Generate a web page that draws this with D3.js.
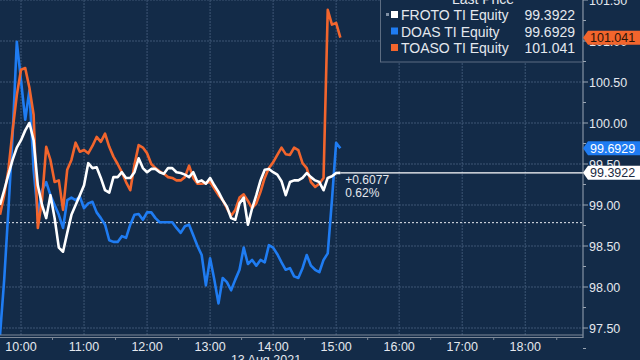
<!DOCTYPE html>
<html>
<head>
<meta charset="utf-8">
<script src="https://cdn.jsdelivr.net/npm/d3@7"></script>
<style>
  body { margin: 0; background: #132b48; overflow: hidden; }
  svg { display: block; font-family: 'Liberation Sans', Arial, sans-serif; }
</style>
</head>
<body>
<svg id="chart" width="640" height="360"></svg>
<script>
// intraday prices, 13 Aug 2021, sampled every 4 minutes
const times = [
  '09:40', '09:44', '09:48', '09:52', '09:56', '10:00', '10:04', '10:08', '10:12', '10:16',
  '10:20', '10:24', '10:28', '10:32', '10:36', '10:40', '10:44', '10:48', '10:52', '10:56',
  '11:00', '11:04', '11:08', '11:12', '11:16', '11:20', '11:24', '11:28', '11:32', '11:36',
  '11:40', '11:44', '11:48', '11:52', '11:56', '12:00', '12:04', '12:08', '12:12', '12:16',
  '12:20', '12:24', '12:28', '12:32', '12:36', '12:40', '12:44', '12:48', '12:52', '12:56',
  '13:00', '13:04', '13:08', '13:12', '13:16', '13:20', '13:24', '13:28', '13:32', '13:36',
  '13:40', '13:44', '13:48', '13:52', '13:56', '14:00', '14:04', '14:08', '14:12', '14:16',
  '14:20', '14:24', '14:28', '14:32', '14:36', '14:40', '14:44', '14:48', '14:52', '14:56',
  '15:00', '15:04'
]

const froto = [
  99.00, 99.18, 99.37, 99.55, 99.70, 99.79, 99.91, 100.00, 99.79, 99.24,
  99.00, 98.84, 99.12, 98.84, 98.48, 98.43, 98.66, 98.88, 99.00, 99.12,
  99.24, 99.51, 99.45, 99.46, 99.33, 99.18, 99.15, 99.34, 99.34, 99.40,
  99.33, 99.33, 99.40, 99.57, 99.45, 99.40, 99.44, 99.44, 99.40, 99.38,
  99.45, 99.45, 99.40, 99.39, 99.37, 99.34, 99.40, 99.28, 99.30, 99.26,
  99.33, 99.24, 99.16, 99.06, 98.98, 98.84, 98.82, 99.02, 99.09, 98.76,
  98.96, 99.12, 99.30, 99.43, 99.44, 99.40, 99.37, 99.29, 99.12, 99.28,
  99.30, 99.30, 99.33, 99.39, 99.34, 99.30, 99.28, 99.18, 99.33, 99.35,
  99.39, 99.3922
]

const doas = [
  97.41, 98.09, 98.94, 99.85, 100.99, 100.52, 100.04, 100.40, 99.43, 98.88,
  99.18, 99.28, 99.12, 99.00, 98.88, 98.72, 99.06, 99.09, 99.06, 99.10,
  98.96, 99.02, 99.04, 98.91, 98.84, 98.76, 98.57, 98.55, 98.55, 98.62,
  98.60, 98.76, 98.88, 98.89, 98.82, 98.91, 98.91, 98.84, 98.79, 98.79,
  98.79, 98.79, 98.72, 98.66, 98.74, 98.76, 98.63, 98.50, 98.39, 98.02,
  98.35, 98.09, 97.80, 98.11, 98.06, 97.96, 98.09, 98.21, 98.48, 98.28,
  98.33, 98.26, 98.33, 98.30, 98.51, 98.48, 98.40, 98.30, 98.21, 98.23,
  98.13, 98.11, 98.23, 98.39, 98.26, 98.21, 98.18, 98.33, 98.41, 99.06,
  99.76, 99.6929
]

const toaso = [
  98.88, 99.12, 99.43, 99.91, 100.34, 100.65, 100.67, 100.43, 100.10, 98.72,
  99.06, 99.71, 99.55, 99.28, 99.30, 98.94, 99.43, 99.55, 99.76, 99.65,
  99.67, 99.63, 99.72, 99.83, 99.77, 99.87, 99.71, 99.59, 99.50, 99.40,
  99.28, 99.18, 99.49, 99.73, 99.70, 99.63, 99.50, 99.45, 99.41, 99.38,
  99.34, 99.33, 99.30, 99.30, 99.34, 99.48, 99.33, 99.26, 99.26, 99.27,
  99.28, 99.20, 99.12, 99.06, 98.96, 98.87, 98.94, 99.09, 99.13, 99.05,
  98.96, 99.02, 99.16, 99.33, 99.45, 99.52, 99.61, 99.70, 99.62, 99.61,
  99.70, 99.67, 99.51, 99.45, 99.28, 99.22, 99.26, 99.33, 101.38, 101.20,
  101.22, 101.041
]

const seriesNames = ['FROTO TI Equity', 'DOAS TI Equity', 'TOASO TI Equity']
const lastLabels = ['99.3922', '99.6929', '101.041']
const yTicks = [97.5, 98, 98.5, 99, 99.5, 100, 100.5, 101, 101.5]
const xTicks = ['10:00', '11:00', '12:00', '13:00', '14:00', '15:00', '16:00', '17:00', '18:00']
const prevClose = 98.7845
const changeText = ['+0.6077', '0.62%']
const dateText = '13 Aug 2021'

const lineColors = ['#ffffff', '#1f7cf2', '#f2652d']
const tagText = ['#1b2a3d', '#ffffff', '#2a1408']

class PriceChart {

  plotRight = 583
  plotBottom = 335
  gridColor = '#3e5675'
  axisColor = '#9aa6b4'
  textColor = '#e4e8ee'

  constructor() {
    this.svg = d3.select('#chart')
    this.parse = d3.timeParse('%Y-%m-%d %H:%M')
    this.dates = times.map(t => this.parse('2021-08-13 ' + t))

    this.x = d3.scaleTime()
      .domain([this.parse('2021-08-13 09:40'), this.parse('2021-08-13 18:55')])
      .range([0, this.plotRight])

    this.y = d3.scaleLinear()
      .domain([97.5, 101.5])
      .range([328, 0])

    this.RenderGrid()
    this.RenderLines()
    this.RenderAxes()
    this.RenderLegend()
    this.RenderTags()
  }

  RenderGrid = () => {
    const grid = this.svg.append('g').classed('grid', true)

    grid.selectAll('line.h')
      .data(yTicks)
      .join('line')
      .attr('x1', 0)
      .attr('x2', this.plotRight)
      .attr('y1', d => this.y(d))
      .attr('y2', d => this.y(d))
      .attr('stroke', this.gridColor)
      .attr('stroke-dasharray', '2,1')

    grid.selectAll('line.v')
      .data(xTicks)
      .join('line')
      .attr('x1', d => this.x(this.parse('2021-08-13 ' + d)))
      .attr('x2', d => this.x(this.parse('2021-08-13 ' + d)))
      .attr('y1', 0)
      .attr('y2', this.plotBottom)
      .attr('stroke', this.gridColor)
      .attr('stroke-dasharray', '2,1')

    // previous close reference
    grid.append('line')
      .attr('x1', 0)
      .attr('x2', this.plotRight)
      .attr('y1', this.y(prevClose))
      .attr('y2', this.y(prevClose))
      .attr('stroke', '#e8ecf2')
      .attr('stroke-dasharray', '2,2')
  }

  RenderLines = () => {
    this.svg.append('clipPath')
      .attr('id', 'plotClip')
      .append('rect')
      .attr('width', this.plotRight)
      .attr('height', this.plotBottom)

    const line = d3.line()
      .x((d, i) => this.x(this.dates[i]))
      .y(d => this.y(d))

    const lines = this.svg.append('g').attr('clip-path', 'url(#plotClip)')

    // last price line for FROTO
    const lastX = this.x(this.dates[this.dates.length - 1])
    lines.append('line')
      .attr('x1', lastX)
      .attr('x2', this.plotRight)
      .attr('y1', this.y(froto[froto.length - 1]))
      .attr('y2', this.y(froto[froto.length - 1]))
      .attr('stroke', '#ffffff')
      .attr('stroke-width', 1.2)

    const order = [[doas, 1], [toaso, 2], [froto, 0]]
    lines.selectAll('path')
      .data(order)
      .join('path')
      .attr('d', d => line(d[0]))
      .attr('fill', 'none')
      .attr('stroke', d => lineColors[d[1]])
      .attr('stroke-width', 2.6)
      .attr('stroke-linejoin', 'round')

    this.svg.selectAll('text.change')
      .data(changeText)
      .join('text')
      .classed('change', true)
      .attr('x', lastX + 5)
      .attr('y', (d, i) => 184 + i * 13)
      .attr('fill', this.textColor)
      .attr('font-size', 12)
      .text(d => d)
  }

  RenderAxes = () => {
    const axisG = this.svg.append('g')

    // right price axis
    axisG.append('line')
      .attr('x1', this.plotRight)
      .attr('x2', this.plotRight)
      .attr('y1', 0)
      .attr('y2', this.plotBottom + 3)
      .attr('stroke', this.axisColor)

    const minor = d3.range(97.25, 101.5, 0.5)
    axisG.selectAll('line.minor')
      .data(minor)
      .join('line')
      .attr('x1', this.plotRight)
      .attr('x2', this.plotRight + 3)
      .attr('y1', d => this.y(d))
      .attr('y2', d => this.y(d))
      .attr('stroke', this.axisColor)

    axisG.selectAll('line.major')
      .data(yTicks)
      .join('line')
      .attr('x1', this.plotRight)
      .attr('x2', this.plotRight + 5)
      .attr('y1', d => this.y(d))
      .attr('y2', d => this.y(d))
      .attr('stroke', this.axisColor)

    axisG.selectAll('text.ylab')
      .data(yTicks)
      .join('text')
      .attr('x', this.plotRight + 6)
      .attr('y', d => this.y(d) + 4.5)
      .attr('fill', this.textColor)
      .attr('font-size', 12.5)
      .text(d => d3.format('.2f')(d))

    // bottom time axis (double rule)
    ;[this.plotBottom, this.plotBottom + 2.5].forEach(yy => {
      axisG.append('line')
        .attr('x1', 0)
        .attr('x2', this.plotRight)
        .attr('y1', yy)
        .attr('y2', yy)
        .attr('stroke', '#7d8897')
    })

    const halfHours = xTicks.map(t => d3.timeMinute.offset(this.parse('2021-08-13 ' + t), 30))
    axisG.selectAll('line.xminor')
      .data(halfHours)
      .join('line')
      .attr('x1', d => this.x(d))
      .attr('x2', d => this.x(d))
      .attr('y1', this.plotBottom + 2.5)
      .attr('y2', this.plotBottom + 5)
      .attr('stroke', '#7d8897')

    axisG.selectAll('text.xlab')
      .data(xTicks)
      .join('text')
      .attr('x', d => this.x(this.parse('2021-08-13 ' + d)))
      .attr('y', 351)
      .attr('text-anchor', 'middle')
      .attr('fill', this.textColor)
      .attr('font-size', 12.5)
      .text(d => d)

    axisG.append('text')
      .attr('x', 266)
      .attr('y', 364)
      .attr('text-anchor', 'middle')
      .attr('fill', this.textColor)
      .attr('font-size', 12.5)
      .text(dateText)
  }

  RenderLegend = () => {
    const legend = this.svg.append('g').classed('legend', true)

    legend.append('rect')
      .attr('x', 380.5)
      .attr('y', -10)
      .attr('width', 202)
      .attr('height', 72)
      .attr('fill', '#132b48')
      .attr('stroke', '#5d6d82')

    legend.append('text')
      .attr('x', 483)
      .attr('y', 4)
      .attr('text-anchor', 'middle')
      .attr('fill', this.textColor)
      .attr('font-size', 14)
      .text('Last Price')

    legend.append('rect')
      .attr('x', 386)
      .attr('y', 13)
      .attr('width', 3)
      .attr('height', 3)
      .attr('fill', '#8090a4')

    const rows = legend.selectAll('g.row')
      .data(seriesNames)
      .join('g')
      .attr('transform', (d, i) => `translate(0, ${15 + i * 16.5})`)

    rows.append('rect')
      .attr('x', 391)
      .attr('y', -4)
      .attr('width', 7)
      .attr('height', 7)
      .attr('fill', (d, i) => lineColors[i])

    rows.append('text')
      .attr('x', 401)
      .attr('y', 5)
      .attr('fill', this.textColor)
      .attr('font-size', 14)
      .text(d => d)

    rows.append('text')
      .attr('x', 575)
      .attr('y', 5)
      .attr('text-anchor', 'end')
      .attr('fill', this.textColor)
      .attr('font-size', 14)
      .text((d, i) => lastLabels[i])
  }

  RenderTags = () => {
    const lasts = [froto, doas, toaso].map(s => s[s.length - 1])
    const tags = this.svg.selectAll('g.tag')
      .data(lasts)
      .join('g')
      .classed('tag', true)
      .attr('transform', d => `translate(${this.plotRight}, ${this.y(d)})`)

    tags.append('path')
      .attr('d', 'M0,0 L5,-7 L57,-7 L57,7 L5,7 Z')
      .attr('fill', (d, i) => lineColors[i])

    tags.append('text')
      .attr('x', 7)
      .attr('y', 4.5)
      .attr('fill', (d, i) => tagText[i])
      .attr('font-size', 12.5)
      .text((d, i) => lastLabels[i])
  }
}

new PriceChart()
</script>
</body>
</html>
